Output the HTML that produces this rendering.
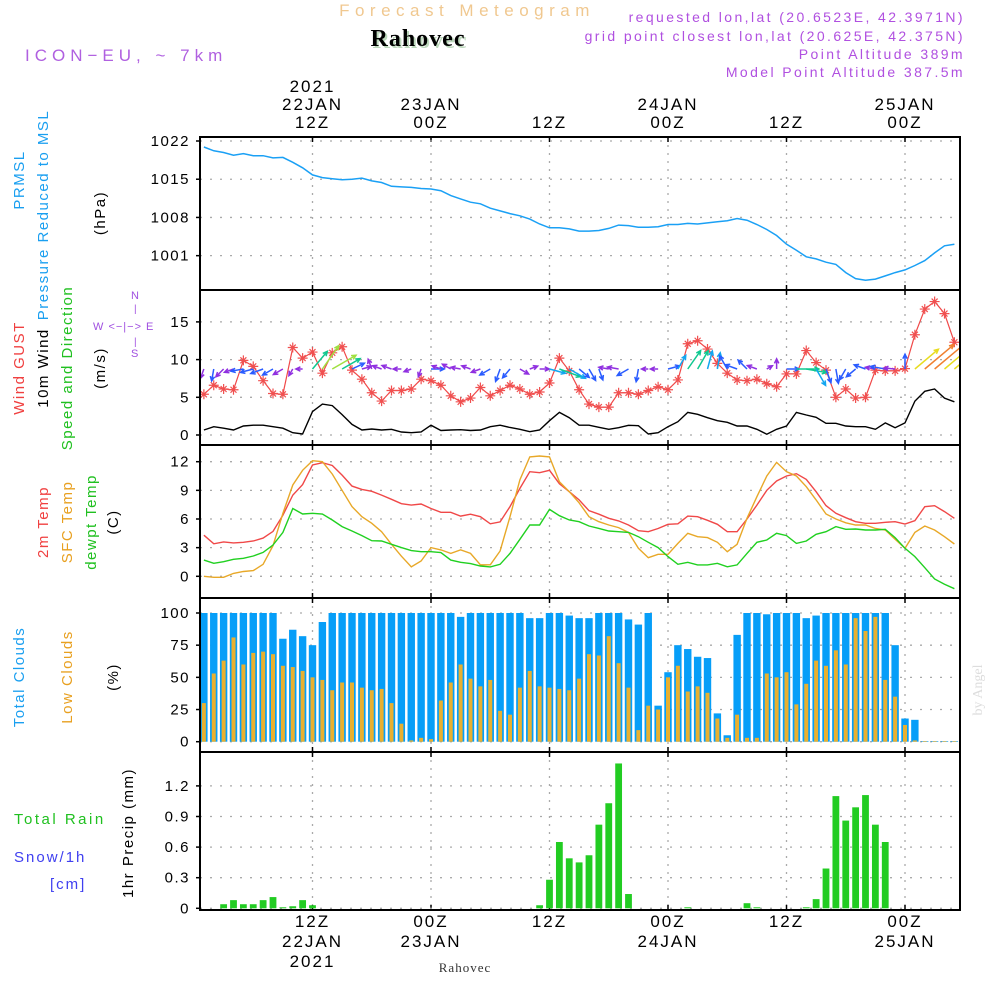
<!DOCTYPE html>
<html><head><meta charset="utf-8"><style>
html,body{margin:0;padding:0;background:#fff;}
svg{display:block;font-family:"Liberation Sans",sans-serif;}
.t{font-size:15px;letter-spacing:1.5px;}
</style></head><body>
<svg id="chart" width="1000" height="1000" viewBox="0 0 1000 1000">
<defs><clipPath id="plotclip"><rect x="201" y="130" width="758" height="790"/></clipPath></defs>
<rect width="1000" height="1000" fill="#fff"/>
<text x="467" y="16" text-anchor="middle" font-size="17" fill="#f0c890" letter-spacing="5.5">Forecast Meteogram</text>
<text x="420" y="48" text-anchor="middle" font-family="Liberation Serif, serif" font-weight="bold" font-size="24" fill="#bcd8bc" letter-spacing="1">Rahovec</text>
<text x="418" y="46" text-anchor="middle" font-family="Liberation Serif, serif" font-weight="bold" font-size="24" fill="#000" letter-spacing="1">Rahovec</text>
<text x="25" y="61" font-size="17" fill="#b060e0" letter-spacing="5">ICON−EU, ~ 7km</text>
<g font-size="14" fill="#b050e0" text-anchor="end" letter-spacing="2.4">
<text x="965" y="22">requested lon,lat (20.6523E, 42.3971N)</text>
<text x="965" y="41">grid point closest lon,lat (20.625E, 42.375N)</text>
<text x="965" y="59">Point Altitude 389m</text>
<text x="965" y="77">Model Point Altitude 387.5m</text>
</g>
<text transform="translate(982,690) rotate(-90)" text-anchor="middle" font-family="Liberation Serif, serif" font-size="14" fill="#ddd">by Angel</text>

<g class="t">
<text transform="translate(24,180) rotate(-90)" text-anchor="middle" fill="#1a9ff0">PRMSL</text>
<text transform="translate(48,215) rotate(-90)" text-anchor="middle" fill="#1a9ff0">Pressure Reduced to MSL</text>
<text transform="translate(105,213) rotate(-90)" text-anchor="middle" fill="#000">(hPa)</text>
<text transform="translate(24,368) rotate(-90)" text-anchor="middle" fill="#f04040">Wind GUST</text>
<text transform="translate(48,368) rotate(-90)" text-anchor="middle" fill="#000">10m Wind</text>
<text transform="translate(72,368) rotate(-90)" text-anchor="middle" fill="#20c020">Speed and Direction</text>
<text transform="translate(105,368) rotate(-90)" text-anchor="middle" fill="#000">(m/s)</text>
<text transform="translate(48,522) rotate(-90)" text-anchor="middle" fill="#f04040">2m Temp</text>
<text transform="translate(72,522) rotate(-90)" text-anchor="middle" fill="#e8a020">SFC Temp</text>
<text transform="translate(96,522) rotate(-90)" text-anchor="middle" fill="#20c020">dewpt Temp</text>
<text transform="translate(118,522) rotate(-90)" text-anchor="middle" fill="#000">(C)</text>
<text transform="translate(24,677) rotate(-90)" text-anchor="middle" fill="#1a9ff0">Total Clouds</text>
<text transform="translate(72,677) rotate(-90)" text-anchor="middle" fill="#e8a020">Low Clouds</text>
<text transform="translate(118,677) rotate(-90)" text-anchor="middle" fill="#000">(%)</text>
<text x="14" y="824" fill="#20c020" letter-spacing="2.5">Total  Rain</text>
<text x="14" y="862" fill="#4040f0" letter-spacing="2">Snow/1h</text>
<text x="50" y="889" fill="#4040f0" letter-spacing="2">[cm]</text>
<text transform="translate(133,833) rotate(-90)" text-anchor="middle" fill="#000">1hr Precip (mm)</text>
</g>
<g font-size="11" fill="#a050e0">
<text x="131" y="299">N</text>
<text x="134" y="312" font-size="10">|</text>
<text x="93" y="330" letter-spacing="1">W &lt;−|−&gt; E</text>
<text x="134" y="345" font-size="10">|</text>
<text x="131" y="357">S</text>
</g>
<g id="layer"></g>
</svg>
<script>
// ---- data (hourly, hour 1..77 from 00Z 22JAN) ----
const pressure=[1020.9,1020.2,1019.9,1019.4,1019.7,1019.3,1019.3,1018.9,1019.0,1018.1,
1017.1,1015.8,1015.3,1015.1,1014.9,1015.0,1015.2,1014.7,1014.4,1013.7,
1013.6,1013.5,1013.3,1013.2,1012.9,1012.0,1011.4,1010.8,1010.5,1009.7,
1009.2,1008.7,1008.3,1007.7,1006.8,1006.1,1006.1,1005.9,1005.5,1005.5,
1005.6,1006.0,1006.6,1006.5,1006.2,1006.2,1006.3,1006.7,1006.7,1006.9,
1006.8,1007.0,1007.2,1007.4,1007.8,1007.5,1006.7,1005.8,1004.7,1003.1,
1002.0,1000.8,1000.4,999.8,999.4,997.9,996.8,996.5,996.7,997.3,
997.9,998.4,999.2,1000.1,1001.5,1002.8,1003.1];
const gust=[5.4,6.6,6.1,6.0,9.9,9.1,7.2,5.5,5.4,11.6,
10.2,11.0,8.2,10.9,11.7,8.6,7.4,5.6,4.5,5.9,
5.9,6.1,7.4,7.2,6.6,5.2,4.4,4.9,6.3,5.2,
5.9,6.6,6.1,5.4,5.7,6.9,10.2,8.5,6.0,4.1,
3.7,3.7,5.6,5.6,5.4,5.9,6.4,6.0,7.3,12.1,
12.5,11.4,9.5,8.2,7.3,7.2,7.4,6.8,6.4,8.1,
8.1,11.2,9.6,8.6,5.0,6.1,4.9,5.0,8.6,8.5,
8.5,8.8,13.3,16.7,17.7,16.1,12.3];
const windSpeed=[0.66,1.1,0.9,0.66,1.2,1.3,1.3,1.1,0.9,0.3,
0.13,3.1,4.1,3.9,2.7,1.4,0.66,0.8,0.66,0.75,
0.4,0.3,0.4,1.3,0.6,0.66,0.7,0.6,0.66,1.1,
1.3,1.0,0.75,0.44,0.66,1.9,3.0,2.3,1.3,1.3,
1.02,0.75,0.97,1.28,1.24,0.13,0.31,1.1,1.77,3.0,
2.74,2.3,1.9,1.68,1.2,1.2,0.75,0.1,0.75,1.2,
3.0,2.65,2.35,1.55,1.55,1.2,1.1,1.1,0.75,1.6,
0.97,1.6,4.5,5.8,6.1,4.9,4.4];
const windDir=[250,260,225,200,190,195,200,210,210,240,
180,50,55,30,30,25,15,110,160,160,
180,200,250,0,160,150,170,160,200,210,
250,230,330,20,0,-15,-20,-30,-40,-60,
-70,170,170,210,260,180,180,15,60,55,
60,75,80,120,160,135,160,30,90,0,
0,-10,-60,-70,-80,240,220,160,170,170,
175,90,40,40,40,40,40];
const temp2m=[4.3,3.4,3.6,3.5,3.56,3.7,4.0,4.7,6.4,8.5,
9.6,11.65,11.9,11.6,10.6,9.45,9.1,8.9,8.5,8.06,
7.6,7.46,7.57,7.1,6.7,6.7,6.3,6.5,6.24,5.5,
5.7,7.3,9.2,10.95,10.85,11.1,9.7,8.86,8.0,6.87,
6.5,6.07,5.8,5.37,4.78,4.67,5.0,5.44,5.5,6.3,
6.24,5.86,5.44,4.67,4.67,6.0,7.46,9.0,9.98,10.5,
10.74,10.15,8.86,7.4,6.6,6.14,5.72,5.55,5.55,5.65,
5.72,5.48,5.83,7.29,7.39,6.77,6.07];
const tempSfc=[0,-0.1,-0.1,0.3,0.5,0.6,1.26,3.2,6.6,9.56,
11.1,12.1,12.0,10.7,9.0,7.3,6.24,5.55,4.67,3.35,
2.1,1.0,1.6,3.0,2.76,2.4,2.76,2.4,1.2,1.2,
2.65,6.24,10.1,12.5,12.6,12.5,9.9,8.86,7.7,6.24,
5.72,5.37,5.1,4.6,2.93,1.95,2.3,2.3,3.45,4.5,
4.15,4.05,3.56,2.58,3.35,6.07,8.34,10.5,11.93,10.95,
10.5,9.38,8.0,6.52,6.0,5.6,5.37,5.37,5.0,4.85,
3.87,2.93,4.6,5.27,4.85,4.15,3.38];
const dewpt=[1.7,1.36,1.53,1.78,1.88,2.13,2.5,3.28,4.6,7.1,
6.52,6.6,6.52,5.9,5.2,4.74,4.26,3.73,3.7,3.35,
3.0,2.69,2.58,2.58,2.48,1.7,1.47,1.33,1.08,0.98,
1.26,2.4,3.87,5.37,5.37,7.0,6.35,5.9,5.72,5.27,
5.02,4.74,4.67,4.6,4.15,3.56,3.0,2.06,1.26,1.47,
1.19,1.19,1.36,1.0,1.19,2.4,3.56,3.8,4.5,4.26,
3.45,3.7,4.4,4.67,5.2,4.92,4.95,4.85,4.85,4.92,
4.05,2.93,2.06,0.9,-0.28,-0.84,-1.3];
const totalClouds=[100,100,100,100,100,100,100,100,80,87,
82,75,93,100,100,100,100,100,100,100,
100,100,100,100,100,100,97,100,100,100,
100,100,100,96,96,100,100,98,96,96,
100,100,100,95,91,100,28,54,75,72,
66,65,22,5,83,100,100,99,100,100,
100,96,98,100,100,100,100,100,100,100,
75,18,17,0.5,0.5,0.5,0.5];
const lowClouds=[30,53,63,81,60,69,70,68,59,58,
55,50,48,40,46,46,42,40,41,30,
14,1,3,2,32,46,60,49,43,48,
24,21,42,55,43,42,41,40,49,68,
67,82,61,42,9,28,25,50,59,39,
43,38,18,3,21,3,3,53,50,54,
29,45,63,59,71,60,96,86,97,48,
35,13,1,0.5,0.5,0.5,0.5];
const precip=[0,0,0.04,0.08,0.04,0.04,0.08,0.11,0.01,0.02,
0.08,0.03,0,0,0,0,0,0,0,0,
0,0,0,0,0,0,0,0,0,0,
0,0,0,0,0.03,0.28,0.65,0.49,0.45,0.52,
0.82,1.03,1.42,0.14,0,0,0,0,0,0.01,
0,0,0,0,0,0.05,0.01,0,0,0,
0,0.01,0.09,0.39,1.10,0.86,0.99,1.11,0.82,0.65,
0,0,0,0,0,0,0];
const pressTicks=[1022,1015,1008,1001];
const windTicks=[15,10,5,0];
const tempTicks=[12,9,6,3,0];
const cloudTicks=[100,75,50,25,0];
const precipTicks=[1.2,0.9,0.6,0.3,0];
const timeTickHours=[12,24,36,48,60,72];
const topLabels=[["2021","22JAN","12Z"],["","23JAN","00Z"],["","","12Z"],["","24JAN","00Z"],["","","12Z"],["","25JAN","00Z"]];
const bottomLabels=[["12Z","22JAN","2021"],["00Z","23JAN",""],["12Z","",""],["00Z","24JAN",""],["12Z","",""],["00Z","25JAN",""]];

// ---- axes ----
const NS="http://www.w3.org/2000/svg";
const layer=document.getElementById('layer');
function mk(tag,attrs,parent){const e=document.createElementNS(NS,tag);for(const k in attrs)e.setAttribute(k,attrs[k]);(parent||layer).appendChild(e);return e;}
const X0=200,X1=960;
const xH=h=>431+(h-24)*9.875;
const yP=p=>141+(1022-p)*5.46;
const yW=v=>435-v*7.54;
const yT=t=>576.3-t*9.55;
const yC=c=>741.7-c*1.287;
const yR=r=>908.3-r*102;
const panels=[{top:137,bot:290,ticks:pressTicks,f:yP,name:'pressure'},{top:290,bot:445,ticks:windTicks,f:yW,name:'wind'},{top:445,bot:598,ticks:tempTicks,f:yT,name:'temperature'},{top:598,bot:752,ticks:cloudTicks,f:yC,name:'clouds'},{top:752,bot:910,ticks:precipTicks,f:yR,name:'precip'}];

panels.forEach(p=>{
  const g=mk('g',{});
  
  
  timeTickHours.forEach(h=>{
    const l=mk('line',{x1:xH(h),x2:xH(h),y1:p.top,y2:p.bot,stroke:'#aaa','stroke-width':1.3,'stroke-dasharray':'2,6'},g);
    
    
    mk('line',{x1:xH(h),x2:xH(h),y1:p.top,y2:p.top+5,stroke:'#000','stroke-width':1.5},g);
    mk('line',{x1:xH(h),x2:xH(h),y1:p.bot,y2:p.bot-5,stroke:'#000','stroke-width':1.5},g);
  });
  p.ticks.forEach(v=>{
    const y=p.f(v);
    const l=mk('line',{x1:X0,x2:X1,y1:y,y2:y,stroke:'#aaa','stroke-width':1.3,'stroke-dasharray':'2,8'},g);
    
    
    mk('line',{x1:X0-4,x2:X0,y1:y,y2:y,stroke:'#000','stroke-width':1.5},g);
    const t=mk('text',{x:X0-10,y:y+5,'text-anchor':'end','font-size':15,fill:'#000','letter-spacing':1.5},g);
    t.textContent=String(v);
    
    
  });
});

const plot=mk('g',{'clip-path':'url(#plotclip)'});
const hours=pressure.map((_,i)=>i+1);
function line(arr,f,color,name,w){
  const pts=arr.map((v,i)=>xH(hours[i]).toFixed(1)+','+f(v).toFixed(1)).join(' ');
  const pl=mk('polyline',{points:pts,fill:'none',stroke:color,'stroke-width':w||1.4},plot);
  
  
}
line(pressure,yP,'#1aa0f5','pressure-line',1.5);
line(windSpeed,yW,'#000','wind-speed-line',1.4);
line(gust,yW,'#f04848','wind-gust-line',1.2);
gust.forEach((v,i)=>{
  const x=xH(hours[i]),y=yW(v);
  const s=mk('path',{d:`M${x-5},${y}H${x+5}M${x},${y-5}V${y+5}M${x-3},${y-3}L${x+3},${y+3}M${x-3},${y+3}L${x+3},${y-3}`,stroke:'#f05050','stroke-width':1.2,fill:'none'},plot);
  
  
});
function windColor(s){if(s>=5.5)return '#f08030';if(s>=4.4)return '#e8dc20';if(s>=3.5)return '#a0e040';if(s>=2.5)return '#10c890';if(s>=1.7)return '#12a6f0';if(s>=1.0)return '#2a5cff';return '#9030e0';}
windDir.forEach((d,i)=>{
  const s=windSpeed[i],L=6+s*5.5,a=d*Math.PI/180;
  const x0=xH(hours[i]),y0=369,x1=x0+L*Math.cos(a),y1=y0-L*Math.sin(a);
  const hl=5,a1=a+Math.PI-0.45,a2=a+Math.PI+0.45;
  const c=windColor(s);
  const ar=mk('path',{d:`M${x0},${y0}L${x1},${y1}M${x1+hl*Math.cos(a1)},${y1-hl*Math.sin(a1)}L${x1},${y1}L${x1+hl*Math.cos(a2)},${y1-hl*Math.sin(a2)}`,stroke:c,'stroke-width':1.5,fill:'none'},plot);
  
  
});
line(temp2m,yT,'#f04848','temp-2m-line',1.4);
line(tempSfc,yT,'#e8a828','temp-sfc-line',1.4);
line(dewpt,yT,'#20d020','dewpoint-line',1.4);
totalClouds.forEach((v,i)=>{
  const x=xH(hours[i]);
  const b=mk('rect',{x:x-3.7,y:yC(v),width:7.4,height:yC(0)-yC(v),fill:'#069ef8'},plot);
  
  
  const lv=lowClouds[i];
  const o=mk('rect',{x:x-2,y:yC(lv),width:4,height:yC(0)-yC(lv),fill:'#e8b030'},plot);
  
  
});
precip.forEach((v,i)=>{
  if(v<=0)return;
  const x=xH(hours[i]);
  const b=mk('rect',{x:x-3.4,y:yR(v),width:6.8,height:yR(0)-yR(v),fill:'#22cc22'},plot);
  
  
});
panels.forEach(p=>{
  const r=mk('rect',{x:X0,y:p.top,width:X1-X0,height:p.bot-p.top,fill:'none',stroke:'#000','stroke-width':2});
  
  
});
timeTickHours.forEach((h,i)=>{
  const x=xH(h);
  topLabels[i].forEach((s,j)=>{
    if(!s)return;
    const t=mk('text',{x:x,y:92+j*18,'text-anchor':'middle','font-size':17,fill:'#000','letter-spacing':2});
    t.textContent=s;
    
    
  });
  bottomLabels[i].forEach((s,j)=>{
    if(!s)return;
    const t=mk('text',{x:x,y:927+j*20,'text-anchor':'middle','font-size':17,fill:'#000','letter-spacing':2});
    t.textContent=s;
    
    
  });
});
const bl=mk('text',{x:465,y:972,'text-anchor':'middle','font-size':13,'font-family':'Liberation Serif, serif',fill:'#333','letter-spacing':1});
bl.textContent='Rahovec';


</script>
</body></html>
